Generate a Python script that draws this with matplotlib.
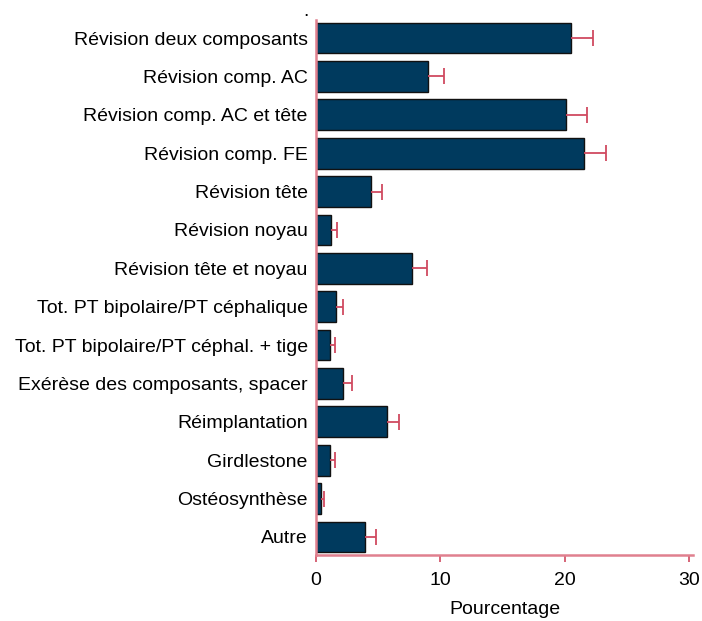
import matplotlib
matplotlib.use("Agg")
import matplotlib.pyplot as plt
import numpy as np

plt.rcParams['font.family'] = ['Liberation Sans', 'DejaVu Sans']

categories = [
    "Révision deux composants",
    "Révision comp. AC",
    "Révision comp. AC et tête",
    "Révision comp. FE",
    "Révision tête",
    "Révision noyau",
    "Révision tête et noyau",
    "Tot. PT bipolaire/PT céphalique",
    "Tot. PT bipolaire/PT céphal. + tige",
    "Exérèse des composants, spacer",
    "Réimplantation",
    "Girdlestone",
    "Ostéosynthèse",
    "Autre",
]
values = [20.5, 9.0, 20.1, 21.5, 4.4, 1.2, 7.7, 1.6, 1.1, 2.2, 5.7, 1.1, 0.38, 3.9]
upper = [22.3, 10.3, 21.8, 23.3, 5.3, 1.7, 8.9, 2.2, 1.55, 2.9, 6.7, 1.55, 0.64, 4.8]
xticks = [0, 10, 20, 30]

bar_color = "#003a5e"
err_color = "#d04a60"
axis_color = "#e0808f"
fs = 14

fig = plt.figure(figsize=(7.02, 6.21), dpi=100)
ax = fig.add_axes([316/702, 1 - 555/621, (693-316)/702, (555-20)/621])

y = np.arange(len(categories))

# shadow
ax.barh(y + 0.02, values, height=0.8, left=0.08, color="#b8b8b8", zorder=1)
ax.barh(y, values, height=0.8, color=bar_color, edgecolor="#111111", linewidth=1.0, zorder=2)
ax.hlines(y, values, upper, color=err_color, linewidth=1.3, zorder=3)
ax.plot(upper, y, linestyle='none', marker='|', markersize=11, markeredgewidth=1.3,
        color=err_color, zorder=3)

ax.set_xlim(0, 30.3)
ax.set_ylim(len(categories) - 0.53, -0.47)
ax.set_yticks(y)
ax.set_yticklabels(categories, fontsize=fs)
ax.set_xticks(xticks)
ax.set_xticklabels([str(t) for t in xticks], fontsize=fs)
ax.set_xlabel("Pourcentage", fontsize=fs, labelpad=9)

for s in ['top', 'right']:
    ax.spines[s].set_visible(False)
for s in ['left', 'bottom']:
    ax.spines[s].set_color(axis_color)
    ax.spines[s].set_linewidth(1.8)
ax.tick_params(axis='y', length=0, pad=6)
ax.tick_params(axis='x', length=5, width=1.2, color=err_color, pad=7)

fig.text(306/702, 1 - 12/621, ".", fontsize=fs, ha='center', va='center')

fig.savefig("out.png", dpi=100)
